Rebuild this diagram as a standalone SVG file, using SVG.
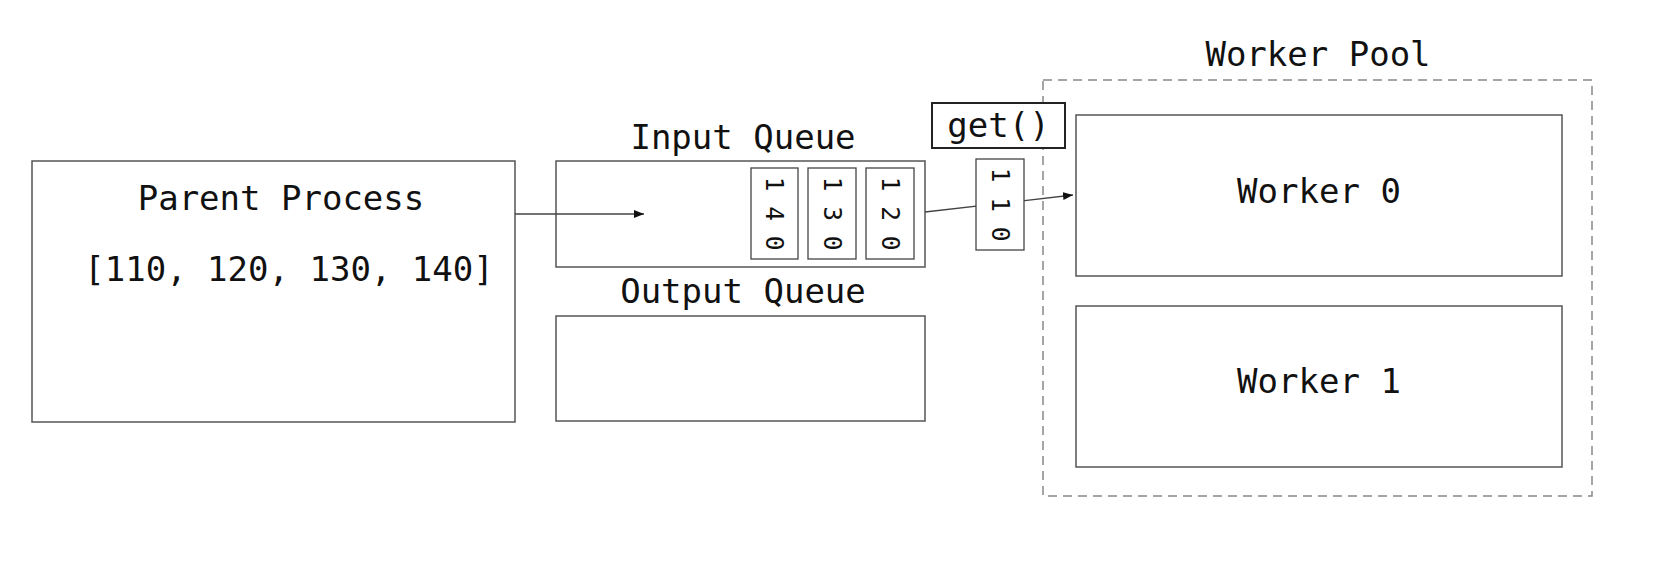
<svg xmlns="http://www.w3.org/2000/svg" width="1672" height="562" viewBox="0 0 1672 562">
<style>
text{font-family:"DejaVu Sans Mono","Liberation Mono",monospace;fill:#111;}
.lbl{font-size:34px;text-anchor:middle;}
.box{fill:#fff;stroke:#555;stroke-width:1.5;}
.item{fill:#fff;stroke:#444;stroke-width:1.3;}
.num{font-size:24.5px;text-anchor:middle;}
.conn{stroke:#444;stroke-width:1.3;fill:none;}
</style>
<defs>
<marker id="ah" viewBox="0 0 10 10" refX="10" refY="5" markerWidth="10" markerHeight="10" markerUnits="userSpaceOnUse" orient="auto">
<path d="M0,1 L10,5 L0,9 z" fill="#111"/>
</marker>
</defs>
<rect width="1672" height="562" fill="#fff"/>

<g id="worker-pool">
<text class="lbl" x="1318" y="66">Worker Pool</text>
<rect x="1043" y="80" width="549" height="416" fill="none" stroke="#888" stroke-width="1.5" stroke-dasharray="9,6"/>
</g>

<g id="parent-process">
<rect class="box" x="32" y="161" width="483" height="261"/>
<text class="lbl" x="281" y="210">Parent Process</text>
<text class="lbl" x="289" y="281">[110, 120, 130, 140]</text>
</g>

<g id="input-queue">
<text class="lbl" x="743" y="149">Input Queue</text>
<rect class="box" x="556" y="161" width="369" height="106"/>
</g>

<g id="item-140">
<rect class="item" x="751" y="168" width="47" height="91"/>
<text class="num" transform="translate(774.5,213.5) rotate(90)" y="8.5">1 4 0</text>
</g>
<g id="item-130">
<rect class="item" x="808" y="168" width="48" height="91"/>
<text class="num" transform="translate(832,213.5) rotate(90)" y="8.5">1 3 0</text>
</g>
<g id="item-120">
<rect class="item" x="866" y="168" width="48" height="91"/>
<text class="num" transform="translate(890,213.5) rotate(90)" y="8.5">1 2 0</text>
</g>

<g id="output-queue">
<text class="lbl" x="743" y="303">Output Queue</text>
<rect class="box" x="556" y="316" width="369" height="105"/>
</g>

<g id="connectors">
<line class="conn" x1="515" y1="214" x2="644" y2="214" marker-end="url(#ah)"/>
<line class="conn" x1="925" y1="212" x2="1073" y2="195" marker-end="url(#ah)"/>
</g>

<g id="get">
<rect x="932" y="103" width="133" height="45" fill="#fff" stroke="#222" stroke-width="2"/>
<text class="lbl" x="998.5" y="137">get()</text>
</g>

<g id="item-110">
<rect class="item" x="976" y="159" width="48" height="91"/>
<text class="num" transform="translate(1000,204.5) rotate(90)" y="8.5">1 1 0</text>
</g>

<g id="worker-0">
<rect class="box" x="1076" y="115" width="486" height="161"/>
<text class="lbl" x="1319" y="203">Worker 0</text>
</g>

<g id="worker-1">
<rect class="box" x="1076" y="306" width="486" height="161"/>
<text class="lbl" x="1319" y="393">Worker 1</text>
</g>
</svg>
